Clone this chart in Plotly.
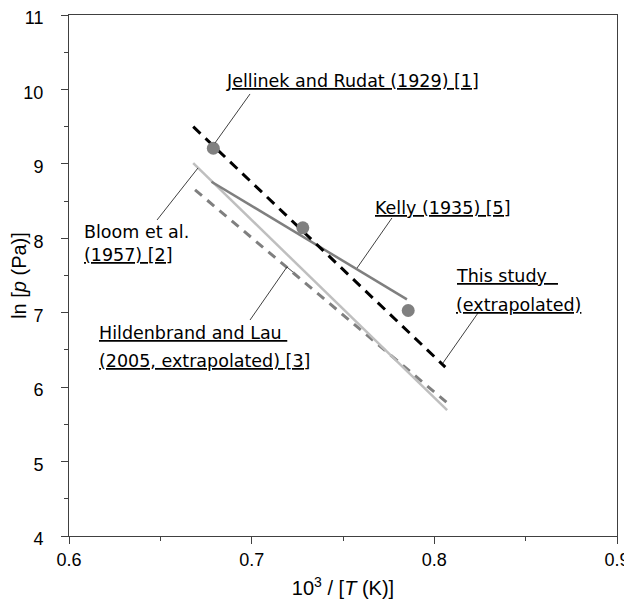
import plotly.graph_objects as go

# ---- data ----
this_study_x = [0.668, 0.806]
this_study_y = [9.50, 6.27]

kelly_x = [0.678, 0.785]
kelly_y = [8.76, 7.18]

bloom_x = [0.668, 0.7185, 0.807]
bloom_y = [9.01, 7.80, 5.69]

hild_x = [0.669, 0.807]
hild_y = [8.65, 5.79]

jellinek_x = [0.679, 0.728, 0.7857]
jellinek_y = [9.21, 8.14, 7.03]

x_ticks = [0.6, 0.7, 0.8, 0.9]
y_ticks = [4, 5, 6, 7, 8, 9, 10, 11]

# label lines: (text, x, y)
labels = [
    ("<u>Jellinek and Rudat (1929) [1]</u>", 0.6849, 10.107),
    ("Bloom et al.", 0.6072, 8.091),
    ("<u>(1957) [2]</u>", 0.6072, 7.769),
    ("<u>Kelly (1935) [5]</u>", 0.7664, 8.407),
    ("<u>This study&nbsp;&nbsp;</u>", 0.8108, 7.487),
    ("<u>(extrapolated)</u>", 0.8108, 7.104),
    ("<u>Hildenbrand and Lau&nbsp;</u>", 0.6154, 6.721),
    ("<u>(2005, extrapolated) [3]</u>", 0.6154, 6.345),
]
# leader lines: list of (x list, y list)
leaders = [
    ([0.6991, 0.6799], [9.939, 9.280]),
    ([0.6482, 0.6706], [8.246, 8.944]),
    ([0.7768, 0.7577], [8.273, 7.601]),
    ([0.8239, 0.8047], [6.996, 6.324]),
    ([0.6991, 0.7193, 0.7226], [6.902, 7.614, 7.547]),
]

fig = go.Figure()

fig.add_trace(go.Scatter(x=hild_x, y=hild_y, mode="lines",
                         line=dict(color="#7f7f7f", width=3, dash="9px,7px")))
fig.add_trace(go.Scatter(x=bloom_x, y=bloom_y, mode="lines",
                         line=dict(color="#bfbfbf", width=2.5)))
fig.add_trace(go.Scatter(x=kelly_x, y=kelly_y, mode="lines",
                         line=dict(color="#7f7f7f", width=2.5)))
fig.add_trace(go.Scatter(x=this_study_x, y=this_study_y, mode="lines",
                         line=dict(color="#000000", width=3, dash="10px,7px")))
fig.add_trace(go.Scatter(x=jellinek_x, y=jellinek_y, mode="markers",
                         marker=dict(color="#808080", size=13)))

for lx, ly in leaders:
    fig.add_trace(go.Scatter(x=lx, y=ly, mode="lines",
                             line=dict(color="#404040", width=1)))

for text, tx, ty in labels:
    fig.add_annotation(x=tx, y=ty, xref="x", yref="y", text=text, showarrow=False,
                       xanchor="left", yanchor="middle", align="left",
                       font=dict(family="DejaVu Sans", size=17.5, color="#000000"))

axis_common = dict(showgrid=False, zeroline=False, showline=True, linecolor="#404040",
                   linewidth=1, mirror=True, ticks="outside", ticklen=7, automargin=False,
                   ticklabeloverflow="allow",
                   tickcolor="#404040", tickfont=dict(family="Liberation Sans", size=18, color="#000"))

fig.update_xaxes(range=[0.6, 0.9], tickvals=x_ticks, ticktext=[str(v) for v in x_ticks],
                 minor=dict(dtick=0.05, ticks="outside", ticklen=4, tickcolor="#404040"),
                 ticklabelstandoff=0,
                 title=dict(text="10<sup>3</sup> / [<i>T</i> (K)]", standoff=12,
                            font=dict(family="Liberation Sans", size=20, color="#000")),
                 **axis_common)
fig.update_yaxes(range=[4, 11], tickvals=y_ticks,
                 minor=dict(dtick=0.5, ticks="outside", ticklen=4, tickcolor="#404040"),
                 ticklabelstandoff=14, ticklabelshift=3,
                 title=dict(text="ln [<i>p</i> (Pa)]", standoff=2,
                            font=dict(family="Liberation Sans", size=20, color="#000")),
                 **axis_common)

fig.update_layout(width=624, height=602, showlegend=False,
                  margin=dict(l=61, r=15, t=7, b=74),
                  plot_bgcolor="white", paper_bgcolor="white")

fig.write_html("out.html")
